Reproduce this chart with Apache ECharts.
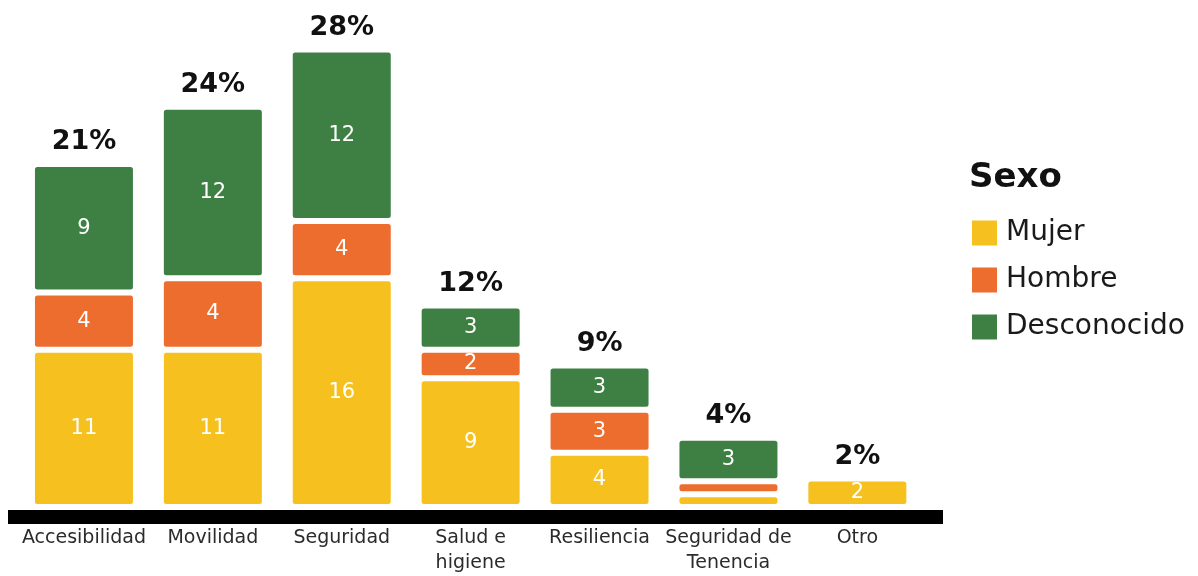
<!DOCTYPE html>
<html>
<head>
<meta charset="utf-8">
<script src="https://cdn.jsdelivr.net/npm/echarts@6/dist/echarts.min.js"></script>
<style>
html,body{margin:0;padding:0;background:#fff;}
#chart{width:1198px;height:576px;}
</style>
</head>
<body>
<div id="chart"></div>
<script>
const categories = ['Accesibilidad', 'Movilidad', 'Seguridad', 'Salud e\nhigiene', 'Resiliencia', 'Seguridad de\nTenencia', 'Otro'];
// bar heights
const mujer = [11, 11, 16, 9, 3.8, 0.9, 2];
const hombre = [4, 5, 4, 2, 3, 0.9, 0];
const desconocido = [9, 12, 12, 3.1, 3.1, 3.05, 0];
// numbers printed inside the segments ('' = no label)
const mujerLabels = ['11', '11', '16', '9', '4', '', '2'];
const hombreLabels = ['4', '4', '4', '2', '3', '', ''];
const desconocidoLabels = ['9', '12', '12', '3', '3', '3', ''];
const percentLabels = ['21%', '24%', '28%', '12%', '9%', '4%', '2%'];
const seriesNames = ['Mujer', 'Hombre', 'Desconocido'];
const colors = ['#F6C11F', '#EC6D2E', '#3E8044'];

const FONT = 'DejaVu Sans';
const chart = echarts.init(document.getElementById('chart'));

function barSeries(name, data, labels, color){
  return {
    name, type: 'bar', stack: 'a', data, barWidth: 104,
    xAxisIndex: 0, yAxisIndex: 0,
    itemStyle: { color, borderColor: '#ffffff', borderWidth: 3, borderRadius: 4 },
    label: {
      show: true, position: 'inside', color: '#ffffff', fontSize: 21, fontFamily: FONT,
      formatter: p => labels[p.dataIndex]
    },
    emphasis: { disabled: true }
  };
}

const option = {
  animation: false,
  textStyle: { fontFamily: FONT },
  title: {
    text: 'Sexo', left: 969, top: 161, padding: 0,
    textStyle: { fontSize: 34, fontWeight: 'bold', color: '#111111', fontFamily: FONT }
  },
  legend: {
    data: seriesNames, orient: 'vertical', left: 970, top: 218.5, padding: 0,
    itemWidth: 27, itemHeight: 27, itemGap: 18, icon: 'rect',
    textStyle: { fontSize: 28, color: '#1a1a1a', fontFamily: FONT, padding: [0, 0, 0, 3] },
    selectedMode: false
  },
  grid: [
    { left: 19.5, right: 276.2, top: 49.5, bottom: 66, containLabel: false },
    { left: 8, right: 255, top: 0, bottom: 59, containLabel: false }
  ],
  xAxis: [
    {
      type: 'category', gridIndex: 0, data: categories,
      axisLine: { show: false }, axisTick: { show: false },
      axisLabel: { fontSize: 19, lineHeight: 25, color: '#2b2b2b', margin: 19, fontFamily: FONT, interval: 0 }
    },
    {
      type: 'category', gridIndex: 1, data: [''],
      axisLine: { show: true, lineStyle: { color: '#000000', width: 14, cap: 'butt' } },
      axisTick: { show: false }, axisLabel: { show: false }
    }
  ],
  yAxis: [
    { type: 'value', gridIndex: 0, min: 0, max: 32, show: false },
    { type: 'value', gridIndex: 1, min: 0, max: 1, show: false }
  ],
  series: [
    barSeries('Mujer', mujer, mujerLabels, colors[0]),
    barSeries('Hombre', hombre, hombreLabels, colors[1]),
    barSeries('Desconocido', desconocido, desconocidoLabels, colors[2]),
    {
      name: 'total', type: 'bar', stack: 'a', barWidth: 104,
      data: categories.map(() => 0),
      itemStyle: { color: 'rgba(0,0,0,0)' },
      label: {
        show: true, position: 'top', distance: 8,
        formatter: p => percentLabels[p.dataIndex],
        fontSize: 27, fontWeight: 'bold', color: '#111111', fontFamily: FONT
      },
      emphasis: { disabled: true }
    }
  ]
};
chart.setOption(option);
</script>
</body>
</html>
